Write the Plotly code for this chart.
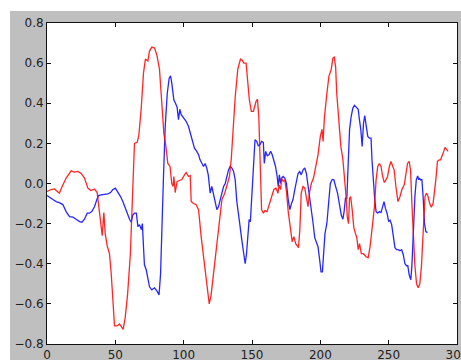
import plotly.graph_objects as go

# Red series
red_x = [0, 3, 5.5, 8, 9, 11.6, 14, 17.7, 20, 22.6, 25, 27.4, 29.9, 32, 34.8, 36.7, 38, 39.6, 40.4, 41.6,
         42.6, 44, 45.7, 47, 48.2, 49.4, 51.3, 53, 54, 55.7, 57.2, 59, 61, 62.8, 64, 66, 67.2, 68.9, 70.6, 72,
         73.8, 75, 76.7, 78.7, 80.4, 82.3, 84, 85.5, 87, 88.4, 90, 91.3, 92.3, 92.8, 93.8, 95.2, 97, 98.7, 100.6, 101.8,
         103.5, 104.8, 105.5, 107.2, 109, 110.9, 112.8, 114.8, 116.5, 117.7, 118.7, 120, 121.3, 123, 125, 126.7, 128, 130, 132, 133.5,
         134.8, 136, 137.7, 139.6, 141.6, 142.8, 144, 145.7, 147, 148, 149.5, 151, 153, 154, 155, 155.8, 157, 158.3, 159.5, 161,
         162.6, 164.3, 166, 167.5, 169, 169.8, 171, 171.6, 172.8, 174, 175.2, 176.5, 177.7, 179.4, 180.6, 182, 184, 185, 186, 187.3,
         188.6, 189.8, 191, 192.2, 193.4, 195, 196.6, 198.3, 200, 201.2, 202, 203, 204.8, 206.3, 208, 209.2, 210.2, 211.2, 212, 213.6,
         215, 216.5, 217.7, 219, 219.7, 220.6, 221.4, 222.2, 223.3, 224.5, 225.7, 226.7, 227.7, 228.7, 230, 231.5, 233.5, 235, 236.4, 237.9,
         239.6, 240.8, 242, 243.2, 244.4, 245.6, 246.8, 248, 249.2, 250.5, 251.7, 253, 254, 255.3, 256.8, 258.3, 259.7, 261.4, 262.6, 263.8,
         265, 266, 267, 268, 269.2, 270.4, 271.6, 272.8, 274, 274.7, 275.7, 276.6, 277.6, 278.8, 280, 281.2, 282.5, 283.5, 284.5, 285.7,
         287, 288, 289.3, 290.3, 291.2, 292.2, 293.5]
red_y = [-0.04, -0.03, -0.027, -0.04, -0.048, -0.007, 0.027, 0.063, 0.057, 0.06, 0.05, 0.027, -0.023, -0.035, -0.028, -0.045, -0.115, -0.2, -0.26, -0.145,
         -0.25, -0.31, -0.35, -0.45, -0.6, -0.71, -0.71, -0.7, -0.71, -0.727, -0.67, -0.55, -0.35, -0.05, 0.2, 0.205, 0.24, 0.37, 0.55, 0.62,
         0.61, 0.66, 0.68, 0.675, 0.64, 0.57, 0.38, 0.25, 0.185, 0.1, 0.085, 0.0, -0.015, 0.035, -0.045, 0.01, 0.015, 0.02, 0.043, 0.055,
         0.035, 0.04, -0.09, -0.1, -0.105, -0.13, -0.265, -0.38, -0.48, -0.55, -0.6, -0.56, -0.48, -0.38, -0.25, -0.15, -0.08, -0.05, 0.0, 0.035,
         0.12, 0.25, 0.43, 0.57, 0.62, 0.615, 0.6, 0.6, 0.47, 0.42, 0.36, 0.36, 0.41, 0.42, 0.33, 0.12, -0.13, -0.148, -0.135, -0.14,
         -0.105, -0.065, -0.03, -0.023, -0.048, -0.007, -0.03, 0.027, 0.01, 0.018, -0.04, -0.14, -0.215, -0.29, -0.265, -0.3, -0.32, -0.23, -0.05, -0.015,
         -0.023, -0.073, -0.115, -0.04, 0.0, 0.027, 0.085, 0.143, 0.235, 0.27, 0.21, 0.33, 0.45, 0.535, 0.57, 0.625, 0.63, 0.58, 0.45, 0.32,
         0.185, 0.12, 0.035, -0.08, -0.165, -0.2, -0.073, -0.065, -0.13, -0.22, -0.25, -0.27, -0.33, -0.3, -0.35, -0.35, -0.365, -0.37, -0.315, -0.23,
         -0.115, 0.018, 0.085, 0.1, 0.085, 0.035, 0.005, 0.018, 0.035, 0.085, 0.11, 0.085, 0.068, -0.015, -0.09, -0.065, -0.03, -0.007, 0.05, 0.1,
         0.11, 0.068, -0.1, -0.265, -0.41, -0.5, -0.52, -0.5, -0.41, -0.315, -0.148, -0.065, -0.048, -0.065, -0.1, -0.118, -0.1, -0.048, 0.018, 0.11,
         0.118, 0.118, 0.138, 0.16, 0.18, 0.168, 0.16]

# Blue series
blue_x = [0, 1.8, 4.3, 6.7, 9, 11.6, 14, 16.5, 19, 21.3, 23.8, 25.5, 27.4, 29.4, 31, 32.8, 34.8, 36.5, 37.7, 39.6,
          42, 44.5, 46.5, 48.2, 50, 51.8, 53.8, 55.5, 57.2, 59.3, 60.4, 61.6, 62.8, 64, 65.4, 66.5, 67.7, 69, 69.8, 70.6,
          71.3, 72.6, 73.8, 75, 76.7, 78.7, 80.4, 82, 83.1, 84, 85.3, 86.5, 88, 89.4, 90.4, 91.3, 92.8, 94, 95.2, 96.2,
          97.2, 98.2, 100.2, 101.8, 103.5, 105, 106.2, 107.9, 109.6, 110.9, 112, 113.3, 114.5, 115.7, 116.9, 118, 119.4, 120.6, 121.8, 123,
          124.3, 125.5, 126.7, 128, 129.2, 130.4, 131.6, 132.8, 134, 135.3, 136.5, 137.7, 138.9, 140, 141.3, 142.5, 143.7, 145, 146, 147,
          147.9, 148.8, 149.8, 151, 152.2, 153.4, 154.6, 155.8, 157, 158.3, 159, 160, 161.2, 162.4, 163.6, 164.8, 166, 167.2, 168.4, 169.2,
          170, 170.9, 171.6, 172.8, 174, 175.2, 176.5, 177.7, 178.9, 180, 181.3, 182.5, 183.7, 184.9, 186, 187.4, 188.6, 189.8, 191, 192.2,
          193.4, 194.7, 195.9, 197, 198.3, 199.5, 200.5, 201.5, 202.4, 203.4, 204.8, 206, 207.3, 208.7, 209.9, 211.2, 212.6, 214, 215.3, 216.5,
          217.4, 218.4, 219.4, 220.4, 221.4, 222.6, 223.8, 225, 226.2, 227.7, 228.6, 229.6, 230.6, 231.6, 232.5, 233.5, 234.7, 235.9, 237.1, 237.8,
          238.8, 239.8, 240.8, 242, 243.2, 244.4, 245.6, 246.6, 247.6, 248.8, 250, 251, 252.2, 253.4, 254.6, 255.8, 257, 258.2, 259.5, 260.7,
          261.9, 263.1, 264, 265, 266.2, 267, 268, 269.2, 270.2, 271.2, 272, 272.5, 273.3, 274.3, 275.2, 276.2, 277.2, 278.4]
blue_y = [-0.06, -0.07, -0.08, -0.09, -0.095, -0.105, -0.14, -0.165, -0.168, -0.178, -0.19, -0.193, -0.178, -0.148, -0.148, -0.14, -0.115, -0.08, -0.06, -0.057,
          -0.055, -0.052, -0.045, -0.03, -0.023, -0.04, -0.065, -0.09, -0.123, -0.157, -0.178, -0.193, -0.157, -0.148, -0.148, -0.215, -0.205, -0.23, -0.2, -0.315,
          -0.405, -0.43, -0.465, -0.515, -0.53, -0.52, -0.535, -0.555, -0.45, -0.215, 0.05, 0.285, 0.45, 0.525, 0.537, 0.5, 0.417, 0.4, 0.38, 0.318,
          0.37, 0.343, 0.326, 0.31, 0.285, 0.25, 0.218, 0.176, 0.16, 0.143, 0.118, 0.1, 0.085, 0.1, 0.077, 0.043, -0.048, -0.015, -0.057, -0.08,
          -0.13, -0.115, -0.08, -0.04, -0.015, 0.0, 0.035, 0.068, 0.085, 0.077, 0.06, 0.018, -0.09, -0.14, -0.215, -0.28, -0.35, -0.4, -0.35, -0.25,
          -0.18, -0.19, -0.048, 0.118, 0.218, 0.21, 0.188, 0.193, 0.21, 0.205, 0.1, 0.16, 0.138, 0.143, 0.16, 0.143, 0.118, 0.085, 0.035, -0.015,
          0.043, 0.0, 0.027, 0.035, 0.027, 0.0, -0.08, -0.13, -0.1, -0.08, -0.03, 0.018, 0.05, 0.06, 0.043, 0.068, 0.077, 0.05, -0.007, -0.065,
          -0.13, -0.198, -0.27, -0.29, -0.315, -0.38, -0.44, -0.44, -0.35, -0.25, -0.198, -0.08, 0.0, 0.02, 0.018, -0.015, -0.048, -0.105, -0.157, -0.178,
          -0.14, -0.073, -0.073, 0.1, 0.27, 0.335, 0.376, 0.39, 0.38, 0.37, 0.318, 0.27, 0.185, 0.3, 0.338, 0.3, 0.235, 0.226, 0.226, 0.118,
          -0.015, -0.08, -0.14, -0.148, -0.14, -0.145, -0.115, -0.09, -0.123, -0.148, -0.19, -0.183, -0.205, -0.265, -0.32, -0.33, -0.33, -0.335, -0.33, -0.355,
          -0.4, -0.41, -0.41, -0.455, -0.48, -0.41, -0.215, -0.065, 0.018, 0.038, 0.018, 0.027, 0.018, 0.02, -0.065, -0.198, -0.24, -0.245]

x_ticks = [0, 50, 100, 150, 200, 250, 300]
y_ticks = [-0.8, -0.6, -0.4, -0.2, 0.0, 0.2, 0.4, 0.6, 0.8]

fig = go.Figure()
fig.add_trace(go.Scatter(x=blue_x, y=blue_y, mode="lines",
                         line=dict(color="rgba(0,0,255,0.85)", width=1.3), showlegend=False))
fig.add_trace(go.Scatter(x=red_x, y=red_y, mode="lines",
                         line=dict(color="rgba(255,0,0,0.85)", width=1.3), showlegend=False))

axis_common = dict(showline=True, linecolor="#111", linewidth=1, mirror="ticks",
                   ticks="inside", ticklen=4, tickcolor="#111", tickwidth=1,
                   showgrid=False, zeroline=False, automargin=False,
                   ticklabeloverflow="allow",
                   tickfont=dict(family="DejaVu Sans", size=12, color="#222"))

fig.update_xaxes(range=[0, 300], tickvals=x_ticks, ticktext=[str(v) for v in x_ticks], **axis_common)
fig.update_yaxes(range=[-0.8, 0.8], tickvals=y_ticks,
                 ticktext=[f"{v:.1f}".replace("-", "\u2212") for v in y_ticks], **axis_common)

# White strips around the gray figure face
fig.add_shape(type="rect", xref="paper", yref="paper", x0=-0.2, x1=1.1, y0=1.037, y1=1.2,
              fillcolor="white", line_width=0, layer="below")
fig.add_shape(type="rect", xref="paper", yref="paper", x0=-0.2, x1=-0.0902, y0=-0.2, y1=1.2,
              fillcolor="white", line_width=0, layer="below")

fig.update_layout(width=461, height=360, template="none",
                  margin=dict(l=47, r=4, t=23, b=16, pad=0),
                  paper_bgcolor="#bfbfbf", plot_bgcolor="white")

fig.write_html("out.html")
